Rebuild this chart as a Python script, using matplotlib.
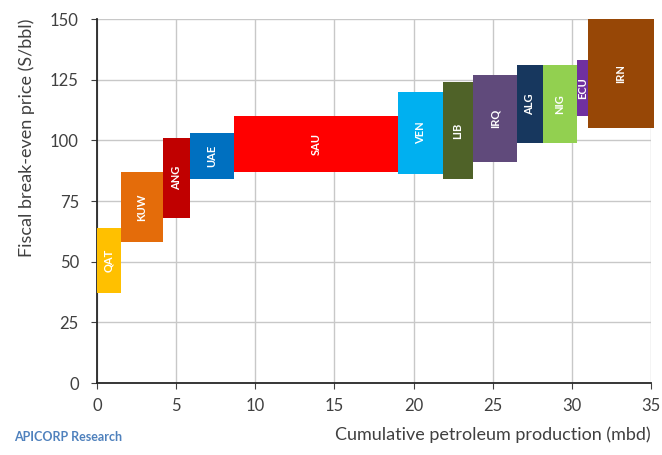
import numpy as np
import matplotlib
matplotlib.use('Agg')
import matplotlib.pyplot as plt

plt.rcParams['font.family'] = ['Lato', 'DejaVu Sans']

# Countries, production (mbd) and break-even range ($/bbl)
countries = ['QAT', 'KUW', 'ANG', 'UAE', 'SAU', 'VEN', 'LIB', 'IRQ', 'ALG', 'NIG', 'ECU', 'IRN']
production = [1.5, 2.7, 1.7, 2.75, 10.35, 2.85, 1.9, 2.75, 1.7, 2.1, 0.7, 4.2]
low_price = [37, 58, 68, 84, 87, 86, 84, 91, 99, 99, 110, 105]
high_price = [64, 87, 101, 103, 110, 120, 124, 127, 131, 131, 133, 150]
colors = ['#FFC000', '#E46C0A', '#C00000', '#0070C0', '#FF0000', '#00B0F0',
          '#4F6228', '#604A7B', '#17375E', '#92D050', '#7030A0', '#974706']

left = np.concatenate([[0], np.cumsum(production)[:-1]])
heights = np.array(high_price) - np.array(low_price)

fig = plt.figure(figsize=(6.62, 4.55), dpi=100)
ax = fig.add_axes([0.1465, 0.158, 0.837, 0.800])

ax.bar(left, heights, width=production, bottom=low_price, align='edge',
       color=colors, linewidth=0, zorder=3, clip_on=False)

for x0, w, lo, h, name in zip(left, production, low_price, heights, countries):
    ax.text(x0 + w / 2, lo + h / 2, name, rotation=90, ha='center', va='center',
            color='white', fontsize=8, fontweight='bold', zorder=4)

ax.set_xlim(0, 35)
ax.set_ylim(0, 150)
ax.set_xticks(np.arange(0, 36, 5))
ax.set_yticks(np.arange(0, 151, 25))
ax.grid(True, color='#C8C8C8', linewidth=1, zorder=0)

for side in ['top', 'right']:
    ax.spines[side].set_visible(False)
ax.spines['left'].set_color('#262626')
ax.spines['bottom'].set_color('#262626')
ax.spines['left'].set_linewidth(1.3)
ax.spines['bottom'].set_linewidth(1.3)

ax.tick_params(axis='both', colors='#404040', labelsize=12, length=4, width=0.8)
ax.tick_params(axis='x', pad=7)
ax.tick_params(axis='y', pad=9)
ax.set_xlabel('Cumulative petroleum production (mbd)', fontsize=13, color='#404040',
              loc='right', labelpad=9)
ax.set_ylabel('Fiscal break-even price (S/bbl)', fontsize=13, color='#404040',
              loc='top', labelpad=11)

fig.text(0.021, 0.03, 'APICORP Research', color='#4F81BD', fontsize=9, fontweight='bold')

fig.savefig('out.png', dpi=100)
